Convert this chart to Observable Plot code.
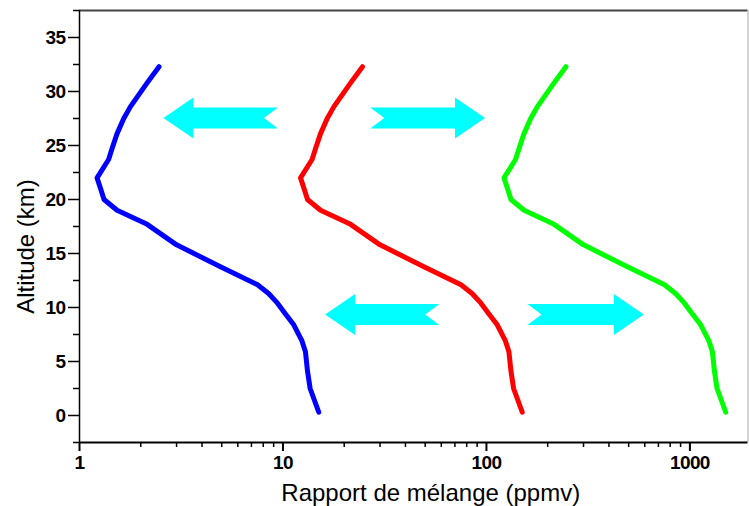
<!DOCTYPE html>
<html>
<head>
<meta charset="utf-8">
<script src="https://cdn.jsdelivr.net/npm/d3@7"></script>
<script src="https://cdn.jsdelivr.net/npm/@observablehq/plot@0.6"></script>
<style>
  html, body { margin: 0; padding: 0; background: #fff; }
  #chart svg { display: block; }
  #chart g[aria-label$="tick label"] text { letter-spacing: -0.6px; }
</style>
</head>
<body>
<div id="chart"></div>
<script>
// ---- data ----
const altitude = [0.3, 2.5, 4.1, 5.9, 6.9, 8.4, 9.5, 10.4, 11.3, 12.1, 13.8, 15.8, 17.7, 19.0, 20.0, 21.0, 22.0, 23.7, 24.8, 26.1, 27.5, 28.6, 30.8, 32.3];
const blueValues  = [15.0, 13.6, 13.2, 12.9, 12.4, 11.3, 10.2, 9.4, 8.5, 7.5, 4.9, 3.0, 2.15, 1.53, 1.32, 1.27, 1.22, 1.39, 1.45, 1.53, 1.65, 1.78, 2.15, 2.46];
const redValues   = [150, 136, 132, 129, 124, 113, 102, 94, 85, 75, 49, 30, 21.5, 15.3, 13.2, 12.7, 12.2, 13.9, 14.5, 15.3, 16.5, 17.8, 21.5, 24.6];
const greenValues = [1500, 1360, 1320, 1290, 1240, 1130, 1020, 940, 850, 750, 490, 300, 215, 153, 132, 127, 122, 139, 145, 153, 165, 178, 215, 246];
const seriesNames = ["profil 1", "profil 2", "profil 3"];
const seriesColors = ["#0000FF", "#FF0000", "#00FF00"];

// arrows: tail and tip mixing ratio, altitude
const arrowTail = [9.5, 27, 59, 160];
const arrowTip  = [2.6, 99, 16.2, 597];
const arrowAlt  = [27.5, 27.5, 9.3, 9.3];

const xMajorTicks = [1, 10, 100, 1000];
const xMinorTicks = [2,3,4,5,6,7,8,9,20,30,40,50,60,70,80,90,200,300,400,500,600,700,800,900];
const yMajorTicks = [0, 5, 10, 15, 20, 25, 30, 35];
const yMinorTicks = [-2.5, 2.5, 7.5, 12.5, 17.5, 22.5, 27.5, 32.5, 37.5];
const xTitle = "Rapport de mélange (ppmv)";
const yTitle = "Altitude (km)";

// ---- tidy table ----
const rows = [];
[blueValues, redValues, greenValues].forEach((vals, s) => {
  vals.forEach((v, i) => rows.push({series: seriesNames[s], x: v, y: altitude[i]}));
});

const xDomain = [1, 1930];
const yDomain = [-2.5, 37.5];

function arrowMark(index, scales) {
  const g = d3.create("svg:g").attr("fill", "#00FFFF");
  const hl = 30, hw = 20.5, sw = 10.5, notch = 14;
  arrowTail.forEach((t, i) => {
    const x0 = scales.x(t), x1 = scales.x(arrowTip[i]), y = scales.y(arrowAlt[i]);
    const dir = Math.sign(x1 - x0);
    const hb = x1 - dir * hl;
    const pts = [[x1, y], [hb, y - hw], [hb, y - sw], [x0, y - sw], [x0 + dir * notch, y],
                 [x0, y + sw], [hb, y + sw], [hb, y + hw]];
    g.append("path").attr("d", "M" + pts.map(p => p.join(",")).join("L") + "Z");
  });
  return g.node();
}

const plot = Plot.plot({
  width: 749,
  height: 506,
  marginLeft: 79,
  marginRight: 1.5,
  marginTop: 10,
  marginBottom: 64,
  style: {fontFamily: "'Liberation Sans', Arial, sans-serif", color: "#000", background: "#fff"},
  x: {type: "log", domain: xDomain},
  y: {domain: yDomain},
  color: {domain: seriesNames, range: seriesColors},
  marks: [
    // frame
    Plot.ruleY([yDomain[1]], {stroke: "#444", strokeWidth: 2}),
    Plot.ruleX([xDomain[1]], {stroke: "#aaa", strokeWidth: 1}),
    // axes
    Plot.axisY(yMinorTicks, {tickSize: 6, tickFormat: () => "", label: null, strokeWidth: 1.5}),
    Plot.axisY(yMajorTicks, {tickSize: 11, tickPadding: 3, tickFormat: d => String(d), label: null, fontSize: 19, fontWeight: "bold", strokeWidth: 1.5}),
    Plot.axisX(xMinorTicks, {tickSize: 5, tickFormat: () => "", label: null, strokeWidth: 1.5}),
    Plot.axisX(xMajorTicks, {tickSize: 9, tickPadding: 4, tickFormat: d => String(d), label: null, fontSize: 19, fontWeight: "bold", strokeWidth: 2}),
    Plot.ruleX([xDomain[0]], {stroke: "#000", strokeWidth: 1.5}),
    Plot.ruleY([yDomain[0]], {stroke: "#000", strokeWidth: 2}),
    // arrows
    arrowMark,
    // profiles
    Plot.line(rows, {x: "x", y: "y", z: "series", stroke: "series", strokeWidth: 5, strokeLinecap: "round", strokeLinejoin: "round"}),
    // titles
    Plot.text([xTitle], {text: d => d, frameAnchor: "bottom", textAnchor: "middle", dx: 17, dy: 58, lineAnchor: "bottom", fontSize: 24}),
    Plot.text([yTitle], {text: d => d, frameAnchor: "left", textAnchor: "middle", dx: -46, dy: 20, rotate: -90, lineAnchor: "bottom", fontSize: 24})
  ]
});
document.getElementById("chart").appendChild(plot);
</script>
</body>
</html>
